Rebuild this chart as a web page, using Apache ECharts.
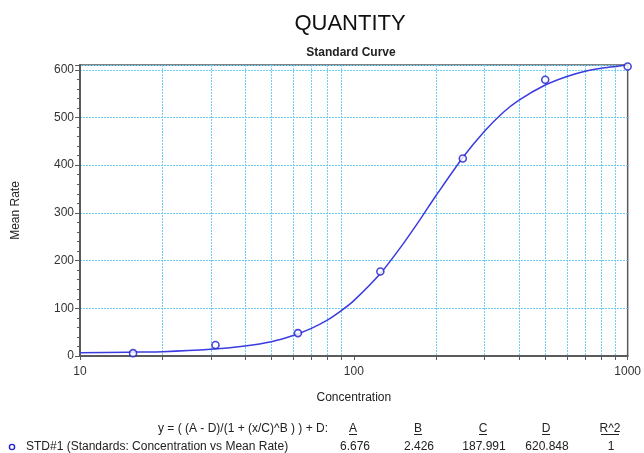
<!DOCTYPE html>
<html>
<head>
<meta charset="utf-8">
<script src="https://cdn.jsdelivr.net/npm/echarts@6/dist/echarts.min.js"></script>
<style>html,body{margin:0;padding:0;background:#fff}#c{width:644px;height:453px}</style>
</head>
<body>
<div id="c"></div>
<script>
// ---- data ----
var stdX = [15.625, 31.25, 62.5, 125, 250, 500, 1000];
var stdY = [6, 23, 48, 177, 414, 579, 607];
var curveX = [10, 15, 20, 30, 40, 50, 60, 70, 80, 90, 100, 125, 150, 175, 188, 200, 250, 300, 350, 400, 500, 600, 700, 800, 1000];
var curveY = [7, 8, 9, 14, 21, 30, 43, 58, 75, 95, 116, 173, 232, 287, 314, 337, 416, 471, 510, 536, 568, 586, 597, 603, 610];
var gridX = [20, 30, 40, 50, 60, 70, 80, 90, 200, 300, 400, 500, 600, 700, 800, 900];
var paramNames = ['A', 'B', 'C', 'D', 'R^2'];
var paramValues = ['6.676', '2.426', '187.991', '620.848', '1'];
var equationText = 'y = ( (A - D)/(1 + (x/C)^B ) ) + D:';
var seriesLabel = 'STD#1 (Standards: Concentration vs Mean Rate)';

var FONT = 'Liberation Sans, Arial, sans-serif';
var GRID = '#6fd0f5';
var AX = '#5a5a5a';
var BLUE = '#2222d8';
var yMax = 610;

var colX = [353, 418, 483, 546, 610];
var graphics = [
  {type:'text', x: 328, y: 429, style:{text: equationText, font: '12px ' + FONT, fill:'#222', align:'right', verticalAlign:'middle'}},
  {type:'circle', shape:{cx: 12, cy: 447, r: 2.6}, style:{fill:'#fff', stroke: BLUE, lineWidth: 1.4}},
  {type:'text', x: 26, y: 447, style:{text: seriesLabel, font: '12px ' + FONT, fill:'#222', align:'left', verticalAlign:'middle'}}
];
paramNames.forEach(function(n, i){
  graphics.push({type:'text', x: colX[i], y: 429, style:{text: n, font: '12px ' + FONT, fill:'#222', align:'center', verticalAlign:'middle'}});
  var w = n.length > 1 ? 18 : 8;
  graphics.push({type:'line', shape:{x1: colX[i] - w/2, y1: 434.5, x2: colX[i] + w/2, y2: 434.5}, style:{stroke:'#222', lineWidth: 1}});
  graphics.push({type:'text', x: colX[i] + (i === 0 ? 2 : 1), y: 447, style:{text: paramValues[i], font: '12px ' + FONT, fill:'#222', align:'center', verticalAlign:'middle'}});
});

var chart = echarts.init(document.getElementById('c'), null, {renderer:'canvas'});
chart.setOption({
  animation: false,
  backgroundColor: '#fff',
  title: [
    {text: 'QUANTITY', left: 345, top: 8, textAlign: 'center', textStyle:{fontFamily: FONT, fontSize: 22, fontWeight: 'normal', color:'#111'}},
    {text: 'Standard Curve', left: 346, top: 42, textAlign: 'center', textStyle:{fontFamily: FONT, fontSize: 12, fontWeight: 'bold', color:'#222'}}
  ],
  grid: {left: 80, right: 16, top: 65, bottom: 97, show: true, borderColor: AX, borderWidth: 1.5, backgroundColor: 'transparent'},
  xAxis: {
    type: 'log', logBase: 10, min: 10, max: 1000,
    name: 'Concentration', nameLocation: 'middle', nameGap: 36,
    nameTextStyle: {fontFamily: FONT, fontSize: 12, color: '#222'},
    axisLine: {show: true, onZero: false, lineStyle: {color: AX, width: 2}},
    axisTick: {show: true, length: 4, lineStyle: {color: AX}},
    axisLabel: {fontFamily: FONT, fontSize: 12, color: '#333', margin: 10,
      formatter: function(v){ return String(Math.round(v)); }},
    splitLine: {show: false}
  },
  yAxis: {
    type: 'value', min: 0, max: yMax, interval: 100,
    name: 'Mean Rate', nameLocation: 'middle', nameGap: 58,
    nameTextStyle: {fontFamily: FONT, fontSize: 12, color: '#222'},
    axisLine: {show: true, lineStyle: {color: AX, width: 2}},
    axisTick: {show: true, length: 5, lineStyle: {color: AX}},
    minorTick: {show: true, splitNumber: 5, length: 3, lineStyle: {color: AX}},
    axisLabel: {fontFamily: FONT, fontSize: 12, color: '#333', margin: 6,
      formatter: function(v){ return v % 100 === 0 ? String(v) : ''; }},
    splitLine: {show: true, lineStyle: {color: GRID, type: [2, 1], width: 1}}
  },
  series: [
    {
      type: 'custom', name: 'vgrid', silent: true, clip: false, z: 1,
      data: gridX.map(function(v){ return [v, 0]; }),
      encode: {x: 0, y: 1},
      renderItem: function(params, api){
        var x = api.value(0);
        var top = api.coord([x, yMax]);
        var bot = api.coord([x, 0]);
        var px = Math.round(top[0]) + 0.5;
        return {type: 'group', children: [
          {type: 'line', shape: {x1: px, y1: top[1], x2: px, y2: bot[1]}, style: {stroke: GRID, lineWidth: 1, lineDash: [2, 1]}},
          {type: 'line', shape: {x1: px, y1: bot[1], x2: px, y2: bot[1] + 4}, style: {stroke: AX, lineWidth: 1}}
        ]};
      }
    },
    {
      type: 'line', name: 'fit', z: 3, showSymbol: false, smooth: 0.2,
      data: curveX.map(function(x, i){ return [x, curveY[i]]; }),
      lineStyle: {color: '#3b3be0', width: 1.5}
    },
    {
      type: 'scatter', name: 'STD#1', z: 4, clip: false,
      data: stdX.map(function(x, i){ return [x, stdY[i]]; }),
      symbol: 'circle', symbolSize: 7,
      itemStyle: {color: '#fff', borderColor: '#1a1acc', borderWidth: 1.6}
    }
  ],
  graphic: graphics
});
</script>
</body>
</html>
